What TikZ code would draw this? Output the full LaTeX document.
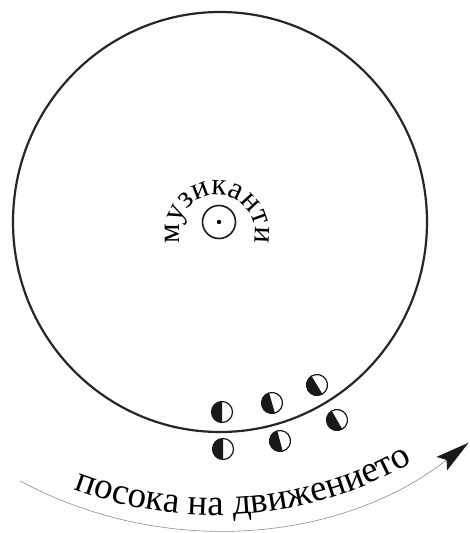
\documentclass[tikz,border=0pt]{standalone}
\usepackage{fontspec}
\setmainfont{Liberation Serif}
\usetikzlibrary{decorations.text,arrows.meta}
\newcommand\topfont{\fontsize{31pt}{31pt}\selectfont}
\newcommand\botfont{\fontsize{37pt}{37pt}\selectfont}
\tikzset{
  dancer/.pic={
    \fill[black!90] (0,10.5) arc[start angle=90, end angle=270, radius=10.5] -- cycle;
    \draw[line width=1.2pt, black!90] (0,0) circle[radius=10.5];
  },
  bigring/.style={line width=2.2pt, draw=black!85},
  hub/.style={circle, draw=black!90, line width=1.6pt, minimum size=33pt, inner sep=0pt},
  pathline/.style={line width=0.6pt, draw=black!45},
}
\begin{document}
\begin{tikzpicture}[x=1pt,y=1pt]
\useasboundingbox (0,0) rectangle (470,-533);
% big circle
\draw[bigring] (220,-222) ellipse[x radius=207, y radius=210];
% centre
\node[hub] (hub) at (219,-222) {};
\fill[black] (hub.center) circle[radius=2.2];
% top text
\path[decorate, decoration={text along path, text={|\topfont|музиканти}, text align=center}]
  (217,-233) ++(210:38) arc[start angle=210, end angle=-30, radius=38];
% dancers
\pic[rotate=0]  (d1) at (222,-412) {dancer};
\pic[rotate=16] (d2) at (272,-403) {dancer};
\pic[rotate=31] (d3) at (317,-385) {dancer};
\pic[rotate=30] (d4) at (337,-420) {dancer};
\pic[rotate=0]  (d5) at (223,-449) {dancer};
\pic[rotate=15] (d6) at (280,-441) {dancer};
% direction arrow
\draw[pathline, -{Stealth[length=34pt, width=17pt, inset=6pt, color=black!90]}]
  (215,-118) ++(-118.2:412) arc[start angle=-118.2, end angle=-52, radius=412];
% bottom text
\path[decorate, decoration={text along path, text={|\botfont|посока на движението}, text align=center}]
  (215,-118) ++(-120:397) arc[start angle=-120, end angle=-51, radius=397];
\end{tikzpicture}
\end{document}
